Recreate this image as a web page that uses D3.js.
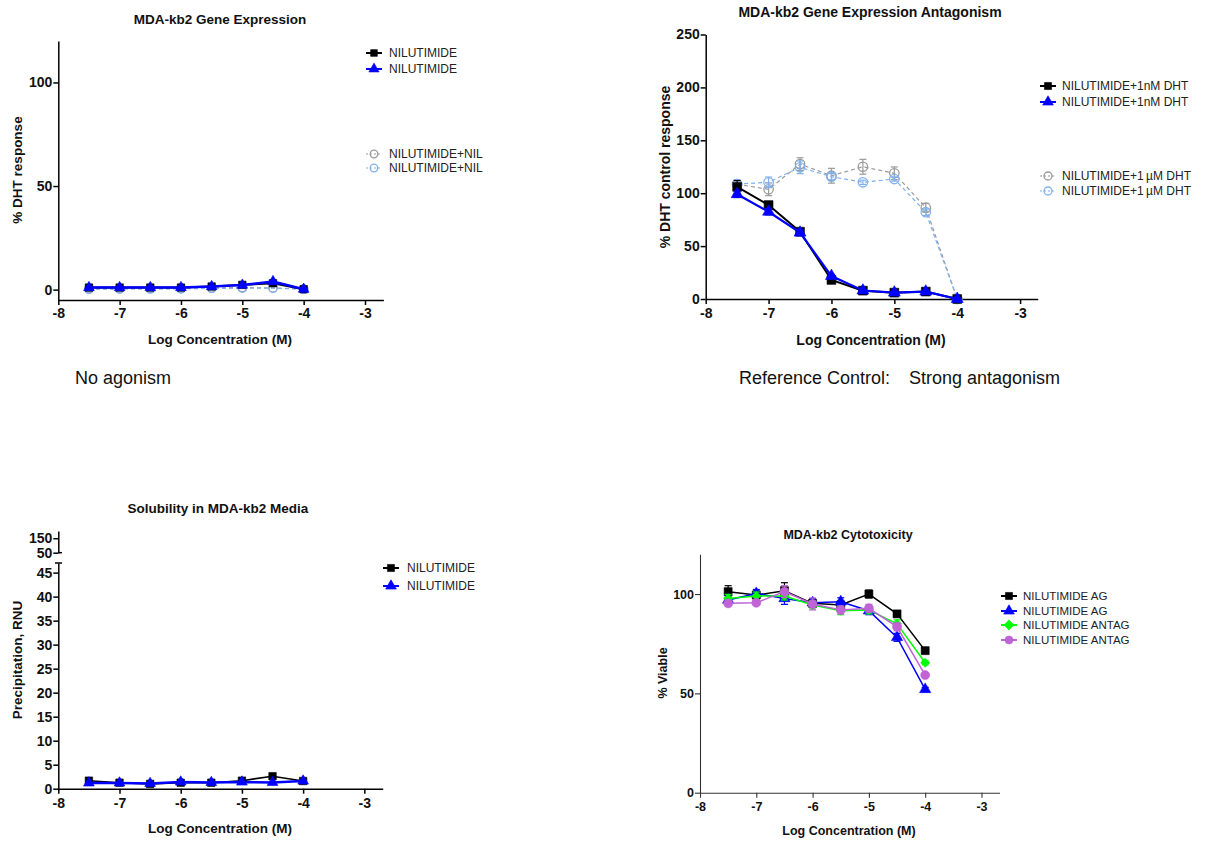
<!DOCTYPE html>
<html>
<head>
<meta charset="utf-8">
<script src="https://cdn.jsdelivr.net/npm/d3@7"></script>
<style>
  body { margin: 0; background: #fff; }
  svg { display: block; }
  text { font-family: "Liberation Sans", Arial, Helvetica, sans-serif; }
</style>
</head>
<body>
<svg id="fig" width="1206" height="842"></svg>
<script>
// ---- shared x values (log molar concentration) and axis ticks ----
const logConc = [-7.5, -7, -6.5, -6, -5.5, -5, -4.5, -4];
const xTickValues = [-8, -7, -6, -5, -4, -3];

// ---- MDA-kb2 gene expression (agonist mode), % DHT response ----
const agonistSquare    = [1.0, 1.0, 1.0, 1.0, 1.5, 2.3, 3.1, 0.2];
const agonistTriangle  = [1.0, 1.0, 1.0, 1.0, 1.5, 2.2, 3.9, 0.2];
const agonistGrey      = [0.5, 0.5, 0.5, 0.5, 0.8, 1.0, 0.8, 0.3];
const agonistLightBlue = [0.2, 0.3, 0.3, 0.4, 0.6, 0.7, 0.7, 0.2];
const agonistYTicks = [0, 50, 100];
const agonistLabels = ["NILUTIMIDE", "NILUTIMIDE", "NILUTIMIDE+NIL", "NILUTIMIDE+NIL"];

// ---- MDA-kb2 gene expression antagonism, % DHT control response ----
const antag1nMSquare      = [106, 88.8, 63.6, 18, 7.9, 6, 7, 0];
const antag1nMSquareErr   = [6, 3, 3, 1.5, 1, 1, 1, 0];
const antag1nMTriangle    = [99, 82.5, 62.7, 21.7, 8, 6, 7, 0];
const antag1nMTriangleErr = [3, 3, 3, 1.5, 1, 1, 1, 0];
const antag1uMGrey        = [108.4, 103.7, 127.5, 116.5, 125, 118.8, 86.3, 0];
const antag1uMGreyErr     = [3, 6, 6, 7, 7, 6, 4, 0];
const antag1uMLightBlue   = [108.6, 110.3, 124.5, 115.6, 110.3, 113.4, 82, 0];
const antag1uMLightBlueErr= [4, 5, 6, 3, 2, 2, 3, 0];
const antagYTicks = [0, 50, 100, 150, 200, 250];
const antagLabels = ["NILUTIMIDE+1nM DHT", "NILUTIMIDE+1nM DHT",
                     "NILUTIMIDE+1\u2009\u00b5M DHT", "NILUTIMIDE+1\u2009\u00b5M DHT"];

// ---- solubility in media, precipitation (RNU) ----
const solSquare   = [1.67, 1.25, 1.0, 1.25, 1.25, 1.67, 2.6, 1.6];
const solTriangle = [1.2, 1.2, 1.1, 1.4, 1.3, 1.4, 1.3, 1.6];
const solLowTicks = [0, 5, 10, 15, 20, 25, 30, 35, 40, 45];
const solHighTicks = [50, 150];
const solLabels = ["NILUTIMIDE", "NILUTIMIDE"];

// ---- cytotoxicity, % viable ----
const cytoAgSquare      = [101.2, 99.5, 101.7, 95.3, 94.5, 100, 90, 71.5];
const cytoAgSquareErr   = [3, 2, 4, 2, 2, 2, 1, 1];
const cytoAgTriangle    = [97, 100.3, 97.8, 95.6, 96.1, 91.6, 78.2, 52];
const cytoAgTriangleErr = [2, 2, 3, 2, 2, 2, 2, 1];
const cytoAntagDiamond  = [97.8, 99, 99, 94.5, 91.6, 92, 85, 65.4];
const cytoAntagDiamondErr = [2, 2, 2, 2, 2, 2, 2, 1];
const cytoAntagCircle   = [95.3, 95.6, 101.2, 95, 92, 92.8, 83.5, 59.2];
const cytoAntagCircleErr= [1, 1, 3, 3, 2, 2, 2, 1];
const cytoYTicks = [0, 50, 100];
const cytoLabels = ["NILUTIMIDE AG", "NILUTIMIDE AG", "NILUTIMIDE ANTAG", "NILUTIMIDE ANTAG"];

const svg = d3.select("#fig");
svg.append("rect").attr("width", 1206).attr("height", 842).attr("fill", "#fff");

// ---------- helpers ----------
function styleAxis(g, fs, sw, color) {
  g.attr("font-family", null).attr("font-size", fs).attr("font-weight", "bold");
  g.select(".domain").attr("stroke", color).attr("stroke-width", sw);
  g.selectAll(".tick line").attr("stroke", color).attr("stroke-width", sw);
  g.selectAll(".tick text").attr("fill", "#111");
}

function drawXAxis(x, yPos, fs, sw, color, pad) {
  const g = svg.append("g").attr("transform", `translate(0,${yPos})`)
    .call(d3.axisBottom(x).tickValues(xTickValues).tickSize(5).tickSizeOuter(0)
      .tickPadding(pad).tickFormat(d => String(d)));
  styleAxis(g, fs, sw, color);
  return g;
}

function drawYAxis(y, xPos, ticks, fs, sw, color) {
  const g = svg.append("g").attr("transform", `translate(${xPos},0)`)
    .call(d3.axisLeft(y).tickValues(ticks).tickSize(5).tickSizeOuter(0)
      .tickPadding(1).tickFormat(d => String(d)));
  styleAxis(g, fs, sw, color);
  return g;
}

function symbolPath(kind, size) {
  const types = { square: d3.symbolSquare, triangle: d3.symbolTriangle,
                  circle: d3.symbolCircle, diamond: d3.symbolSquare };
  return d3.symbol().type(types[kind]).size(size)();
}

function marker(g, kind, size, cx, cy, s) {
  const p = g.append("path").attr("d", symbolPath(kind, size))
    .attr("fill", s.open ? "none" : s.color)
    .attr("stroke", s.color)
    .attr("stroke-width", s.open ? 1.3 : 0.6);
  const rot = kind === "diamond" ? " rotate(45)" : "";
  p.attr("transform", `translate(${cx},${cy})${rot}`);
}

function drawSeries(x, y, ys, s) {
  const g = svg.append("g");
  const pts = logConc.map((c, i) => [c, ys[i]]);
  const line = d3.line().x(d => x(d[0])).y(d => y(d[1]));
  g.append("path").datum(pts).attr("d", line)
    .attr("fill", "none").attr("stroke", s.color).attr("stroke-width", s.width)
    .attr("stroke-dasharray", s.dash || null);
  if (s.err) {
    pts.forEach((d, i) => {
      const e = s.err[i];
      if (!e) return;
      const cx = x(d[0]), y0 = y(d[1] - e), y1 = y(d[1] + e);
      g.append("line").attr("x1", cx).attr("x2", cx).attr("y1", y0).attr("y2", y1)
        .attr("stroke", s.color).attr("stroke-width", 1.2);
      [y0, y1].forEach(yy => g.append("line")
        .attr("x1", cx - 3.5).attr("x2", cx + 3.5).attr("y1", yy).attr("y2", yy)
        .attr("stroke", s.color).attr("stroke-width", 1.2));
    });
  }
  pts.forEach(d => marker(g, s.kind, s.size, x(d[0]), y(d[1]), s));
}

function legendItem(cx, cy, tx, label, s, fs) {
  const g = svg.append("g");
  g.append("line").attr("x1", cx - 8).attr("x2", cx + 8).attr("y1", cy).attr("y2", cy)
    .attr("stroke", s.color).attr("stroke-width", s.dash ? 1.2 : 2)
    .attr("stroke-dasharray", s.dash ? "2,2" : null);
  marker(g, s.kind, s.size, cx, cy, s);
  g.append("text").attr("x", tx).attr("y", cy).attr("dy", "0.36em")
    .attr("font-size", fs).attr("fill", "#222").text(label);
}

function title(x, y, txt, fs) {
  svg.append("text").attr("x", x).attr("y", y).attr("dy", "0.36em")
    .attr("text-anchor", "middle").attr("font-size", fs).attr("font-weight", "bold")
    .attr("fill", "#111").text(txt);
}

function yTitle(x, y, txt, fs) {
  svg.append("text").attr("transform", `translate(${x},${y}) rotate(-90)`)
    .attr("dy", "0.36em").attr("text-anchor", "middle").attr("font-size", fs)
    .attr("font-weight", "bold").attr("fill", "#111").text(txt);
}

// series styles
const sBlackSq  = { color: "#000", width: 2, kind: "square", size: 64 };
const sBlueTri  = { color: "#0000ff", width: 2.2, kind: "triangle", size: 55 };
const sGreyCir  = { color: "#9a9a9a", width: 1.2, kind: "circle", size: 70, open: true, dash: "4,3" };
const sLBlueCir = { color: "#7fb1ee", width: 1.2, kind: "circle", size: 70, open: true, dash: "4,3" };

// ================= Panel 1: agonism =================
{
  const x = d3.scaleLinear().domain([-8, -2.7]).range([58.3, 383.4]);
  const y = d3.scaleLinear().domain([-5, 120]).range([300, 41]);
  drawXAxis(x, 300, 14, 1.5, "#000", 3);
  drawYAxis(y, 58.3, agonistYTicks, 14, 1.5, "#000");
  drawSeries(x, y, agonistGrey, { ...sGreyCir, size: 55 });
  drawSeries(x, y, agonistLightBlue, { ...sLBlueCir, size: 55 });
  drawSeries(x, y, agonistSquare, { ...sBlackSq, size: 56 });
  drawSeries(x, y, agonistTriangle, { ...sBlueTri, size: 50, width: 2.5 });
  title(220, 19, "MDA-kb2 Gene Expression", 13.5);
  title(220, 339, "Log Concentration (M)", 13.5);
  yTitle(17, 170, "% DHT response", 13.5);
  const styles = [sBlackSq, sBlueTri, sGreyCir, sLBlueCir];
  [53, 69, 154, 168].forEach((cy, i) =>
    legendItem(374, cy, 389, agonistLabels[i], { ...styles[i], size: 45 }, 12));
  svg.append("text").attr("x", 75).attr("y", 378).attr("dy", "0.36em")
    .attr("font-size", 18).attr("fill", "#111").text("No agonism");
}

// ================= Panel 2: antagonism =================
{
  const x = d3.scaleLinear().domain([-8, -2.72]).range([705.7, 1037.7]);
  const y = d3.scaleLinear().domain([0, 250]).range([299, 34.5]);
  drawXAxis(x, 299, 14, 1.5, "#000", 4);
  drawYAxis(y, 705.7, antagYTicks, 14, 1.5, "#000");
  drawSeries(x, y, antag1uMGrey, { ...sGreyCir, err: antag1uMGreyErr });
  drawSeries(x, y, antag1uMLightBlue, { ...sLBlueCir, err: antag1uMLightBlueErr });
  drawSeries(x, y, antag1nMSquare, { ...sBlackSq, err: antag1nMSquareErr, size: 78 });
  drawSeries(x, y, antag1nMTriangle, { ...sBlueTri, err: antag1nMTriangleErr, size: 62 });
  title(870, 12, "MDA-kb2 Gene Expression Antagonism", 14);
  title(871, 340, "Log Concentration (M)", 14);
  yTitle(665, 167, "% DHT control response", 14);
  const styles = [sBlackSq, sBlueTri, sGreyCir, sLBlueCir];
  [86, 102, 176, 191].forEach((cy, i) =>
    legendItem(1048, cy, 1062, antagLabels[i], { ...styles[i], size: 50 }, 12));
  svg.append("text").attr("x", 739).attr("y", 378).attr("dy", "0.36em")
    .attr("font-size", 18).attr("fill", "#111")
    .call(t => {
      t.append("tspan").text("Reference Control:");
      t.append("tspan").attr("x", 909).text("Strong antagonism");
    });
}

// ================= Panel 3: solubility (broken y axis) =================
{
  const x = d3.scaleLinear().domain([-8, -2.7]).range([58.3, 382.7]);
  const yLow = d3.scaleLinear().domain([0, 47]).range([788.7, 563]);
  const yHigh = d3.scaleLinear().domain([50, 200]).range([552.7, 531]);
  drawXAxis(x, 788.7, 14, 1.5, "#000", 4);
  drawYAxis(yLow, 58.3, solLowTicks, 14, 1.5, "#000");
  drawYAxis(yHigh, 58.3, solHighTicks, 14, 1.5, "#000");
  // caps marking the axis break
  svg.append("line").attr("x1", 58.3).attr("x2", 62).attr("y1", 552.7).attr("y2", 552.7)
    .attr("stroke", "#000").attr("stroke-width", 1.5);
  svg.append("line").attr("x1", 55).attr("x2", 62).attr("y1", 563).attr("y2", 563)
    .attr("stroke", "#000").attr("stroke-width", 1.5);
  drawSeries(x, yLow, solSquare, { ...sBlackSq, size: 56, width: 1.6 });
  drawSeries(x, yLow, solTriangle, { ...sBlueTri, size: 50, width: 2.5 });
  title(218, 508, "Solubility in MDA-kb2 Media", 13.5);
  title(220, 828, "Log Concentration (M)", 13.5);
  yTitle(17, 660, "Precipitation, RNU", 13.5);
  const styles = [sBlackSq, sBlueTri];
  [568, 586].forEach((cy, i) =>
    legendItem(391, cy, 407, solLabels[i], { ...styles[i], size: 50 }, 12));
}

// ================= Panel 4: cytotoxicity =================
{
  const x = d3.scaleLinear().domain([-8, -2.68]).range([700, 999.5]);
  const y = d3.scaleLinear().domain([0, 120]).range([792.7, 554.3]);
  drawXAxis(x, 792.7, 12.5, 1.1, "#333", 4);
  drawYAxis(y, 700, cytoYTicks, 12.5, 1.1, "#333");
  const sq  = { color: "#000", width: 1.5, kind: "square", size: 64, err: cytoAgSquareErr };
  const tri = { color: "#0000ff", width: 1.5, kind: "triangle", size: 55, err: cytoAgTriangleErr };
  const dia = { color: "#00ff00", width: 1.5, kind: "diamond", size: 42, err: cytoAntagDiamondErr };
  const cir = { color: "#bf63d6", width: 1.5, kind: "circle", size: 64, err: cytoAntagCircleErr };
  drawSeries(x, y, cytoAgSquare, sq);
  drawSeries(x, y, cytoAgTriangle, tri);
  drawSeries(x, y, cytoAntagDiamond, dia);
  drawSeries(x, y, cytoAntagCircle, cir);
  title(848, 534, "MDA-kb2 Cytotoxicity", 12.5);
  title(849, 830, "Log Concentration (M)", 12.5);
  yTitle(662, 673, "% Viable", 12.5);
  const styles = [sq, tri, dia, cir];
  [596, 611, 625, 640].forEach((cy, i) =>
    legendItem(1009, cy, 1023, cytoLabels[i], { ...styles[i], size: 50 }, 11.5));
}
</script>
</body>
</html>
